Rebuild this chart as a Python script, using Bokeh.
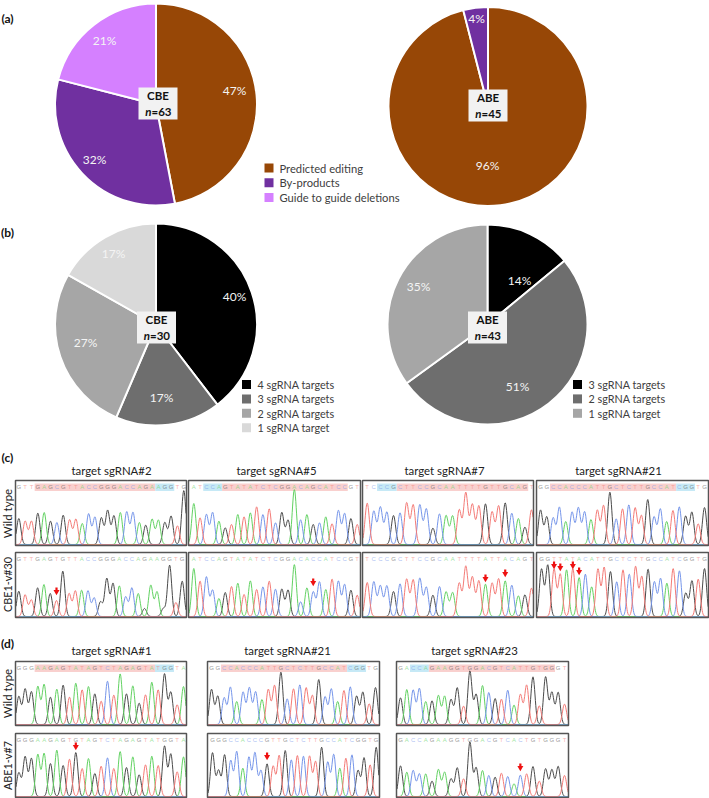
import math
import numpy as np
from bokeh.plotting import figure
from bokeh.embed import file_html
from bokeh.resources import INLINE
from bokeh.core.properties import value

# ---------- pie data ----------
A_LABELS = ["Predicted editing", "By-products", "Guide to guide deletions"]
A_COLORS = ["#974706", "#7030A0", "#D580FF"]
A_CBE = [47, 32, 21]
A_ABE = [96, 4]
B_COLORS = ["#000000", "#6E6E6E", "#A6A6A6", "#D9D9D9"]
B_CBE = [40, 17, 27, 17]
B_CBE_LABELS = ["4 sgRNA targets", "3 sgRNA targets", "2 sgRNA targets", "1 sgRNA target"]
B_ABE = [14, 51, 35]
B_ABE_LABELS = ["3 sgRNA targets", "2 sgRNA targets", "1 sgRNA target"]

# ---------- chromatogram data: called bases and peak heights ----------
C2_WT_SEQ = "GTTGAGCGTTACCGGGACCAGAAGGTG"
C2_WT_H = [78,70,70,94,96,70,66,88,74,76,63,92,82,80,102,86,96,98,96,66,58,76,73,66,85,56,162]
C2_KO_SEQ = "GTTGAGTGTTACCGGGACCAGAAGGTG"
C2_KO_H = [76,65,50,86,96,69,48,136,69,77,79,77,56,44,114,99,92,59,86,69,24,94,74,24,154,42,106]
C5_WT_SEQ = "ATCCAGTATATCTCGGACAGCATCCGT"
C5_WT_H = [123,80,90,96,70,50,60,90,83,95,113,90,107,65,96,73,165,74,90,60,65,83,62,102,93,78,60]
C5_KO_SEQ = "ATCCAGTATATCTCGGACACCATCCGT"
C5_KO_H = [144,106,119,79,54,72,90,100,66,107,81,89,106,82,82,79,156,44,86,74,104,81,112,106,96,79,64]
C7_WT_SEQ = "TCCCGCTTCCGCAATTTTGTTGCAGT"
C7_WT_H = [124,100,112,97,87,95,125,119,119,107,49,92,87,86,104,155,120,116,122,98,116,125,94,78,52,104]
C7_KO_SEQ = "TCCCGCTTCCGCAATTTTATTACAGT"
C7_KO_H = [102,104,92,92,75,98,112,110,115,88,64,90,74,72,100,150,118,107,97,100,113,107,94,62,65,85]
C21_WT_SEQ = "GGCCACCCATTGCTCTTGCCATCGGTG"
C21_WT_H = [103,83,80,112,69,97,110,98,75,103,117,157,77,107,119,110,87,135,83,107,69,102,113,85,97,62,111]
C21_KO_SEQ = "GGTTATACATTGCTCTTGCCATCGGTG"
C21_KO_H = [142,154,142,127,140,144,117,127,89,142,147,135,104,140,127,150,120,142,104,114,100,144,137,70,107,112,144]
D1_WT_SEQ = "GGGAAGAGTATAGTCTAGAGTATGGTA"
D1_WT_H = [84,106,98,114,120,82,106,118,82,124,104,114,92,70,130,88,152,92,116,64,89,127,104,152,97,59,114]
D1_KO_SEQ = "GGGAAGAGTGTAGTCTAGAGTATGGTA"
D1_KO_H = [71,119,114,126,129,99,139,93,112,132,84,114,69,91,116,84,135,87,119,65,95,121,93,151,127,74,119]
D21_WT_SEQ = "GGCCACCCATTGCTCTTGCCATCGGTG"
D21_WT_H = [105,85,80,112,69,97,110,98,75,105,117,157,77,107,119,110,87,135,83,107,69,102,113,85,97,62,111]
D21_KO_SEQ = "GGGCCACCCGTTGCTCTTGCCATCGGTG"
D21_KO_H = [131,78,125,108,135,85,118,131,78,98,91,123,138,110,123,121,121,105,148,103,126,85,115,125,78,116,95,148]
D23_WT_SEQ = "GACCAGAAGGTGGACGTCATTGTGGGT"
D23_WT_H = [80,105,103,108,69,71,87,85,75,110,55,160,90,117,96,78,76,103,58,90,118,143,56,143,96,96,61]
D23_KO_SEQ = "GACCAGAAGGTGGACGTCACTGTGGGT"
D23_KO_H = [92,73,78,68,68,46,81,73,53,86,53,163,86,78,63,58,70,60,38,64,68,90,46,83,80,90,63]

C_TITLES = ["target sgRNA#2", "target sgRNA#5", "target sgRNA#7", "target sgRNA#21"]
D_TITLES = ["target sgRNA#1", "target sgRNA#21", "target sgRNA#23"]

BASE_COLOR = {"G": "#4a4a4a", "A": "#62d262", "C": "#7595ea", "T": "#f47a76"}
GREY = "#404040"
FONT = value("Lato")

p = figure(width=709, height=798, x_range=(0, 709), y_range=(798, 0),
           output_backend="svg", toolbar_location=None, min_border=0,
           outline_line_color=None, background_fill_color="white", border_fill_color="white")
p.axis.visible = False
p.grid.visible = False


def label(x, y, s, size=13, color=GREY, style="normal", align="center", angle=0.0):
    p.text([x], [y], text=[s], text_font=FONT, text_font_size=f"{size}px", text_color=color,
           text_font_style=style, text_align=align, text_baseline="middle", angle=angle)


def pie(cx, cy, r, vals, colors):
    total = sum(vals)
    cum = 0.0
    for v, c in zip(vals, colors):
        a0 = math.pi / 2 - 2 * math.pi * cum / total
        cum += v
        a1 = math.pi / 2 - 2 * math.pi * cum / total
        p.wedge([cx], [cy], radius=r, start_angle=a0, end_angle=a1, direction="clock",
                fill_color=c, line_color="white", line_width=2)


def center_box(cx, cy, name, n):
    p.rect([cx], [cy], width=39, height=32, fill_color="#F2F2F2", line_color=None)
    label(cx, cy - 8, name, 11.5, "#111111", "bold")
    label(cx - 6.5, cy + 8, "n", 11.5, "#111111", "bold italic", "right")
    label(cx - 6.5, cy + 8, f"={n}", 11.5, "#111111", "bold", "left")


def legend(x, y0, labels, colors, dy, gap, size):
    for i, (t, c) in enumerate(zip(labels, colors)):
        y = y0 + i * dy
        p.rect([x], [y], width=9, height=9, fill_color=c, line_color=None)
        label(x + gap, y, t, size, GREY, align="left")


# ---------- pies ----------
pie(155.5, 104, 101, A_CBE, A_COLORS)
pie(487.5, 106, 99.5, A_ABE, A_COLORS)
pie(155.5, 324, 101, B_CBE, B_COLORS)
pie(487, 324, 100, B_ABE, B_COLORS)

for x, y, v, in [(234, 90, A_CBE[0]), (94, 159, A_CBE[1]), (104, 40, A_CBE[2]),
                 (487, 165, A_ABE[0]), (476, 18, A_ABE[1]),
                 (234, 296, B_CBE[0]), (161, 397, B_CBE[1]), (85, 342, B_CBE[2]), (113, 253, B_CBE[3]),
                 (519, 280, B_ABE[0]), (517, 386, B_ABE[1]), (418, 286, B_ABE[2])]:
    label(x, y, f"{v}%", 12, "#f4f4f4")

center_box(157.5, 103, "CBE", 63)
center_box(487.5, 105, "ABE", 45)
center_box(156, 327, "CBE", 30)
center_box(487, 327, "ABE", 43)

legend(268.5, 167.5, A_LABELS, A_COLORS, 14.7, 10.5, 11.2)
legend(246, 384, B_CBE_LABELS, B_COLORS, 14.4, 11, 10.8)
legend(577, 384, B_ABE_LABELS, B_COLORS, 14.4, 11, 10.8)


# ---------- chromatograms ----------
def trace(seq, heights, frame, first, last, bands=(), arrows=()):
    x0, x1, top, bot = frame
    base = bot - 1
    n = len(seq)
    pos = first + (last - first) * np.arange(n) / (n - 1)
    sp = (last - first) / (n - 1)
    sigma = sp * 0.33
    grid = np.arange(x0 + 0.5, x1 - 0.3, 0.4)
    for (i0, i1, col) in bands:
        p.quad(left=[pos[i0] - sp / 2], right=[pos[i1] + sp / 2], top=[top + 3], bottom=[top + 10.5],
               fill_color=col, line_color=None)
    for b in "GACT":
        idx = [i for i, c in enumerate(seq) if c == b]
        sig = np.zeros_like(grid)
        for i in idx:
            sig += heights[i] / 3 * np.exp(-((grid - pos[i]) ** 2) / (2 * sigma ** 2))
        p.line(grid, np.maximum(base - sig, top + 1.5), line_color=BASE_COLOR[b], line_width=1.0)
    p.text(pos, [top + 6.7] * n, text=list(seq), text_font=value("Liberation Sans"), text_font_size="6px",
           text_color=[BASE_COLOR[c] for c in seq], text_alpha=0.6, text_align="center", text_baseline="middle")
    for i, y in arrows:
        p.quad(left=[pos[i] - 1.1], right=[pos[i] + 1.1], top=[y - 3], bottom=[y + 0.5],
               fill_color="#ee1111", line_color=None)
        p.scatter([pos[i]], [y + 1.2], marker="inverted_triangle", size=6, fill_color="#ee1111", line_color=None)
    p.quad(left=[x0], right=[x1], top=[top], bottom=[bot], fill_color=None, line_color="#555555", line_width=1.5)


PINK = "#f9d0ce"
BLUE = "#c6e9f6"
C_WT = (480, 545)
C_KO = (552, 617)
D_WT = (661, 725)
D_KO = (733, 797)

trace(C2_WT_SEQ, C2_WT_H, (15, 186, *C_WT), 18.3, 183.3, [(3, 21, PINK), (22, 24, BLUE)])
trace(C2_KO_SEQ, C2_KO_H, (15, 186, *C_KO), 18.3, 181.7, arrows=[(6, 590)])
trace(C5_WT_SEQ, C5_WT_H, (188, 360, *C_WT), 193.3, 356.7, [(2, 4, BLUE), (5, 24, PINK)])
trace(C5_KO_SEQ, C5_KO_H, (188, 360, *C_KO), 193.3, 356.7, arrows=[(19, 581)])
trace(C7_WT_SEQ, C7_WT_H, (362, 533, *C_WT), 366.7, 531, [(2, 4, BLUE), (5, 24, PINK)])
trace(C7_KO_SEQ, C7_KO_H, (362, 533, *C_KO), 366.7, 531, arrows=[(18, 577), (21, 572)])
trace(C21_WT_SEQ, C21_WT_H, (536, 708, *C_WT), 540, 704, [(2, 21, PINK), (22, 24, BLUE)])
trace(C21_KO_SEQ, C21_KO_H, (536, 708, *C_KO), 541, 704, arrows=[(2, 564), (3, 566), (5, 564), (6, 570)])
trace(D1_WT_SEQ, D1_WT_H, (15, 186, *D_WT), 18.3, 183, [(3, 21, PINK), (22, 24, BLUE)])
trace(D1_KO_SEQ, D1_KO_H, (15, 186, *D_KO), 18.3, 183, arrows=[(9, 745)])
trace(D21_WT_SEQ, D21_WT_H, (207, 379, *D_WT), 211, 375, [(2, 21, PINK), (22, 24, BLUE)])
trace(D21_KO_SEQ, D21_KO_H, (207, 379, *D_KO), 212, 375.7, arrows=[(9, 755)])
trace(D23_WT_SEQ, D23_WT_H, (396, 568, *D_WT), 400, 564, [(2, 4, BLUE), (5, 24, PINK)])
trace(D23_KO_SEQ, D23_KO_H, (396, 568, *D_KO), 400, 564, arrows=[(19, 766)])

# ---------- titles and row labels ----------
for x, t in zip([111, 276, 444, 618], C_TITLES):
    label(x, 470, t, 11.4, "#222222")
for x, t in zip([111, 287, 474], D_TITLES):
    label(x, 650, t, 11.4, "#222222")

label(7, 513, "Wild type", 11.5, "#222222", angle=math.pi / 2)
label(7, 584, "CBE1-v#30", 10.8, "#222222", angle=math.pi / 2)
label(7, 693, "Wild type", 11.5, "#222222", angle=math.pi / 2)
label(7, 765, "ABE1-v#7", 10.8, "#222222", angle=math.pi / 2)

for y, t in [(18, "(a)"), (232, "(b)"), (457, "(c)"), (643, "(d)")]:
    label(7, y, t, 12, "#111111", "bold")

open("out.html", "w").write(file_html(p, INLINE))
